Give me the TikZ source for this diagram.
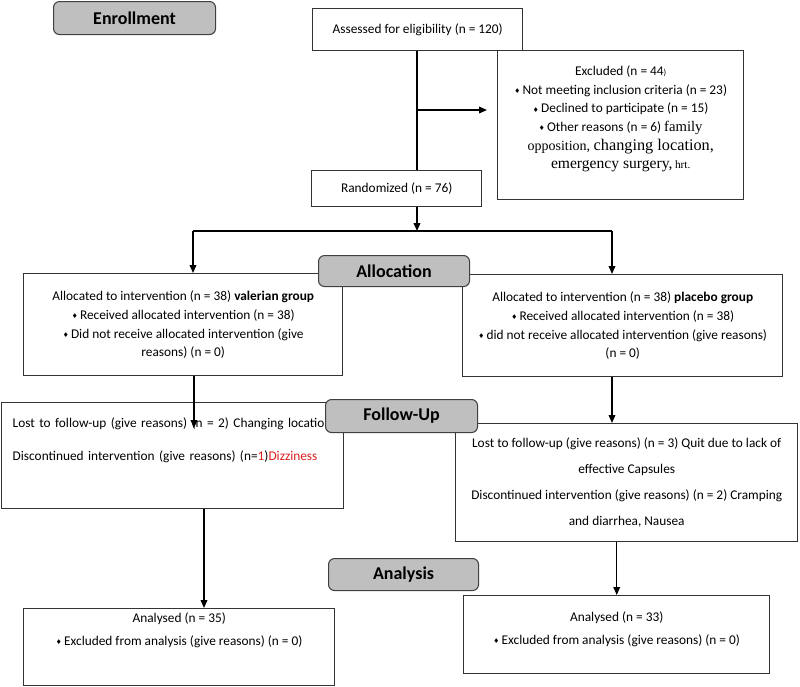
\documentclass[tikz,border=0pt]{standalone}
\usepackage{fontspec}
\setmainfont{Carlito}
\newfontfamily\serifA{Liberation Serif}
\newfontfamily\symA{DejaVu Sans}
\usetikzlibrary{arrows.meta, calc}
\definecolor{phase}{RGB}{191,191,191}
\definecolor{edge}{RGB}{51,51,51}
\definecolor{flag}{RGB}{220,30,30}
\newcommand{\dia}{{\symA\fontsize{5}{5}\selectfont\raisebox{0.2ex}{♦}}\,}
\newcommand{\dropby}[1]{\rule[-#1]{0pt}{#1}}

\begin{document}
\begin{tikzpicture}[x=0.75pt, y=-0.75pt,
      phase/.style={rectangle, rounded corners=4.5pt, draw=black!75, line width=0.8pt,
                    fill=phase, anchor=north west, inner sep=0pt,
                    font=\fontsize{13.5}{15}\selectfont\bfseries},
      box/.style={rectangle, draw=edge, line width=1.1pt, fill=white, anchor=north west,
                  align=center, inner sep=3pt, font=\fontsize{10}{14}\selectfont},
      arr/.style={-{Triangle[length=6pt, width=5pt]}, line width=1.1pt, draw=black},
      link/.style={line width=1.1pt, draw=black}
    ]
    \useasboundingbox (0,0) rectangle (800,686);

    \node[box, minimum width=157.5pt, minimum height=31.5pt] (assess) at (312,8) {Assessed for eligibility (n = 120)};
    \node[box, minimum width=184.5pt, minimum height=111.75pt] (excl) at (497,50) {Excluded (n = 44{\fontsize{6.5}{6}\selectfont)}\\
      \dia Not meeting inclusion criteria (n = 23)\\
      \dia Declined to participate (n = 15)\\
      \dia Other reasons (n = 6) {\serifA\fontsize{11}{14}\selectfont family}\\
      {\serifA\fontsize{10.5}{14}\selectfont opposition, {\fontsize{12.2}{14}\selectfont changing location,}}\\
      {\serifA\fontsize{11.7}{14}\selectfont emergency surgery,\,{\fontsize{8.5}{14}\selectfont hrt.}}\dropby{12pt}};
    \node[box, minimum width=127.5pt, minimum height=27pt] (rand) at (311,170) {Randomized (n = 76)};
    \node[box, minimum width=239.25pt, minimum height=76.5pt] (allocL) at (23,273) {Allocated to intervention (n = 38) \textbf{valerian group}\\
      \dia Received allocated intervention (n = 38)\\
      \dia Did not receive allocated intervention (give\\
      reasons) (n = 0)};
    \node[box, minimum width=240pt, minimum height=76.5pt] (allocR) at (462,274) {Allocated to intervention (n = 38) \textbf{placebo group}\\
      \dia Received allocated intervention (n = 38)\\
      \dia did not receive allocated intervention (give reasons)\\
      (n = 0)};
    \node[box, minimum width=256.5pt, minimum height=79.5pt, text width=240pt, align=left] (fupL) at (1,402) {\mbox{Lost to follow-up (give reasons) (n = 2) Changing location}\\[10.75pt]
      \mbox{Discontinued intervention (give reasons) (n=\textcolor{flag}{1})\textcolor{flag}{Dizziness}}\dropby{25pt}};
    \node[box, minimum width=256.5pt, minimum height=88.5pt, font=\fontsize{10}{19.5}\selectfont] (fupR) at (455,423) {Lost to follow-up (give reasons) (n = 3) Quit due to lack of\\
      effective Capsules\\
      Discontinued intervention (give reasons) (n = 2) Cramping\\
      and diarrhea, Nausea};
    \node[box, minimum width=233.25pt, minimum height=57.75pt, font=\fontsize{10}{17.25}\selectfont] (anaL) at (23,608) {Analysed (n = 35)\\
      \dia Excluded from analysis (give reasons) (n = 0)\dropby{27pt}};
    \node[box, minimum width=229.5pt, minimum height=58.5pt, font=\fontsize{10}{17.25}\selectfont] (anaR) at (463,595) {Analysed (n = 33)\\
      \dia Excluded from analysis (give reasons) (n = 0)\dropby{10.5pt}};

    \node[phase, minimum width=121.5pt, minimum height=24.75pt] (enrol) at (53,1) {Enrollment};
    \node[phase, minimum width=113.25pt, minimum height=23.25pt] (alloc) at (318,255) {Allocation};
    \node[phase, minimum width=114pt, minimum height=24.75pt] (follow) at (325,399) {Follow-Up};
    \node[phase, minimum width=112.5pt, minimum height=24pt] (analysis) at (328,558) {Analysis};

    \coordinate (exJ) at (417,110);
    \coordinate (split) at (417,231);
    \coordinate (sL) at (193,231);
    \coordinate (sR) at (612,231);
    \coordinate (lostL) at (194,428);
    \coordinate (dropL) at (204,508);
    \draw[link] (assess.south -| exJ) -- (rand.north -| exJ);
    \draw[arr, shorten >=7.5pt] (exJ) -- (exJ -| excl.west);
    \draw[arr] (rand.south -| split) -- (split);
    \draw[link] (sL) -- (sR);
    \draw[arr] (sL) -- (sL |- allocL.north);
    \draw[arr] (sR) -- (sR |- allocR.north);
    \draw[arr] (allocL.south -| lostL) -- (lostL);
    \draw[arr] (allocR.south -| sR) -- (fupR.north -| sR);
    \draw[arr] (fupL.south -| dropL) -- (anaL.north -| dropL);
    \draw[arr] (fupR.south -| anaR.north) -- (anaR.north);
  \end{tikzpicture}
\end{document}
